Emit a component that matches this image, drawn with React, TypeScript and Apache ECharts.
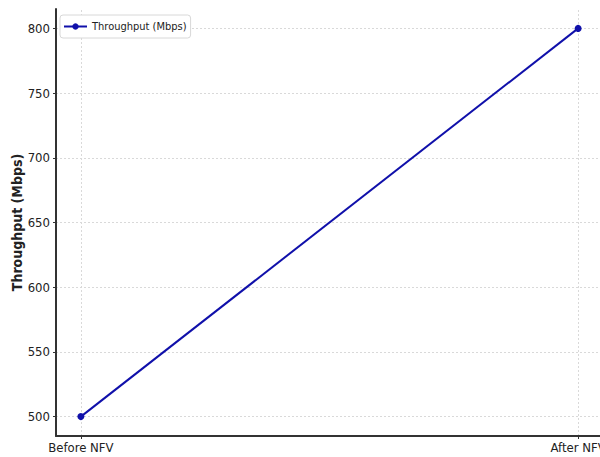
import React, { useEffect, useRef } from "react";
import * as echarts from "echarts";

const categories = ["Before NFV", "After NFV"];
const throughput = [500, 800];
const yTicks = [500, 550, 600, 650, 700, 750, 800];
const seriesName = "Throughput (Mbps)";
const yAxisName = "Throughput (Mbps)";

export default function App() {
  const ref = useRef<HTMLDivElement>(null);
  useEffect(() => {
    if (!ref.current) return;
    const chart = echarts.init(ref.current, undefined, { renderer: "svg" });
    const idx = categories.map((_, i) => i);
    const font = "'DejaVu Sans Condensed', 'Liberation Sans Narrow', 'DejaVu Sans', sans-serif";
    chart.setOption({
      animation: false,
      textStyle: { fontFamily: font },
      grid: { left: 56, top: 9, right: -3, bottom: 21, containLabel: false, outerBoundsMode: "none" },
      legend: {
        show: true,
        left: 60,
        top: 15,
        orient: "vertical",
        backgroundColor: "#ffffff",
        borderColor: "#d8d8d8",
        borderWidth: 1,
        borderRadius: 3,
        padding: [6, 4, 6, 3],
        itemWidth: 23,
        itemHeight: 8,
        itemGap: 4,
        textStyle: { fontSize: 11, color: "#222", fontFamily: font },
        data: [seriesName],
      },
      xAxis: {
        type: "value",
        min: -0.05,
        max: 1.05,
        axisLine: { show: true, onZero: false, lineStyle: { color: "#333", width: 2 } },
        axisTick: { show: true, customValues: idx, length: 3, lineStyle: { color: "#333" } },
        axisLabel: {
          show: true,
          customValues: idx,
          formatter: (v: number) => categories[Math.round(v)] ?? "",
          color: "#222",
          fontSize: 13,
          margin: 5,
          fontFamily: font,
        },
        splitLine: { show: false },
      },
      yAxis: {
        type: "value",
        min: 485,
        max: 815,
        name: yAxisName,
        nameLocation: "middle",
        nameGap: 32,
        nameMoveOverlap: false,
        nameTextStyle: { fontSize: 14, fontWeight: "bold", color: "#222", fontFamily: font },
        axisLine: { show: true, onZero: false, lineStyle: { color: "#333", width: 2 } },
        axisTick: { show: true, customValues: yTicks, length: 3, lineStyle: { color: "#333" } },
        axisLabel: {
          show: true,
          customValues: yTicks,
          color: "#222",
          fontSize: 13,
          margin: 6,
          fontFamily: font,
        },
        splitLine: { show: false },
      },
      series: [
        {
          name: seriesName,
          type: "line",
          data: throughput.map((v, i) => [i, v]),
          symbol: "circle",
          symbolSize: 7,
          lineStyle: { color: "#1010aa", width: 2 },
          itemStyle: { color: "#1010aa" },
          markLine: {
            silent: true,
            symbol: "none",
            label: { show: false },
            lineStyle: { color: "#d9d9d9", type: [2, 2], width: 1 },
            data: [
              ...idx.map((i) => ({ xAxis: i })),
              ...yTicks.map((t) => ({ yAxis: t })),
            ],
            z: 0,
          },
          z: 3,
        },
      ],
    });
    return () => chart.dispose();
  }, []);
  return (
    <div
      ref={ref}
      style={{ position: "fixed", left: 0, top: 0, width: 600, height: 457, background: "#fff" }}
    />
  );
}
